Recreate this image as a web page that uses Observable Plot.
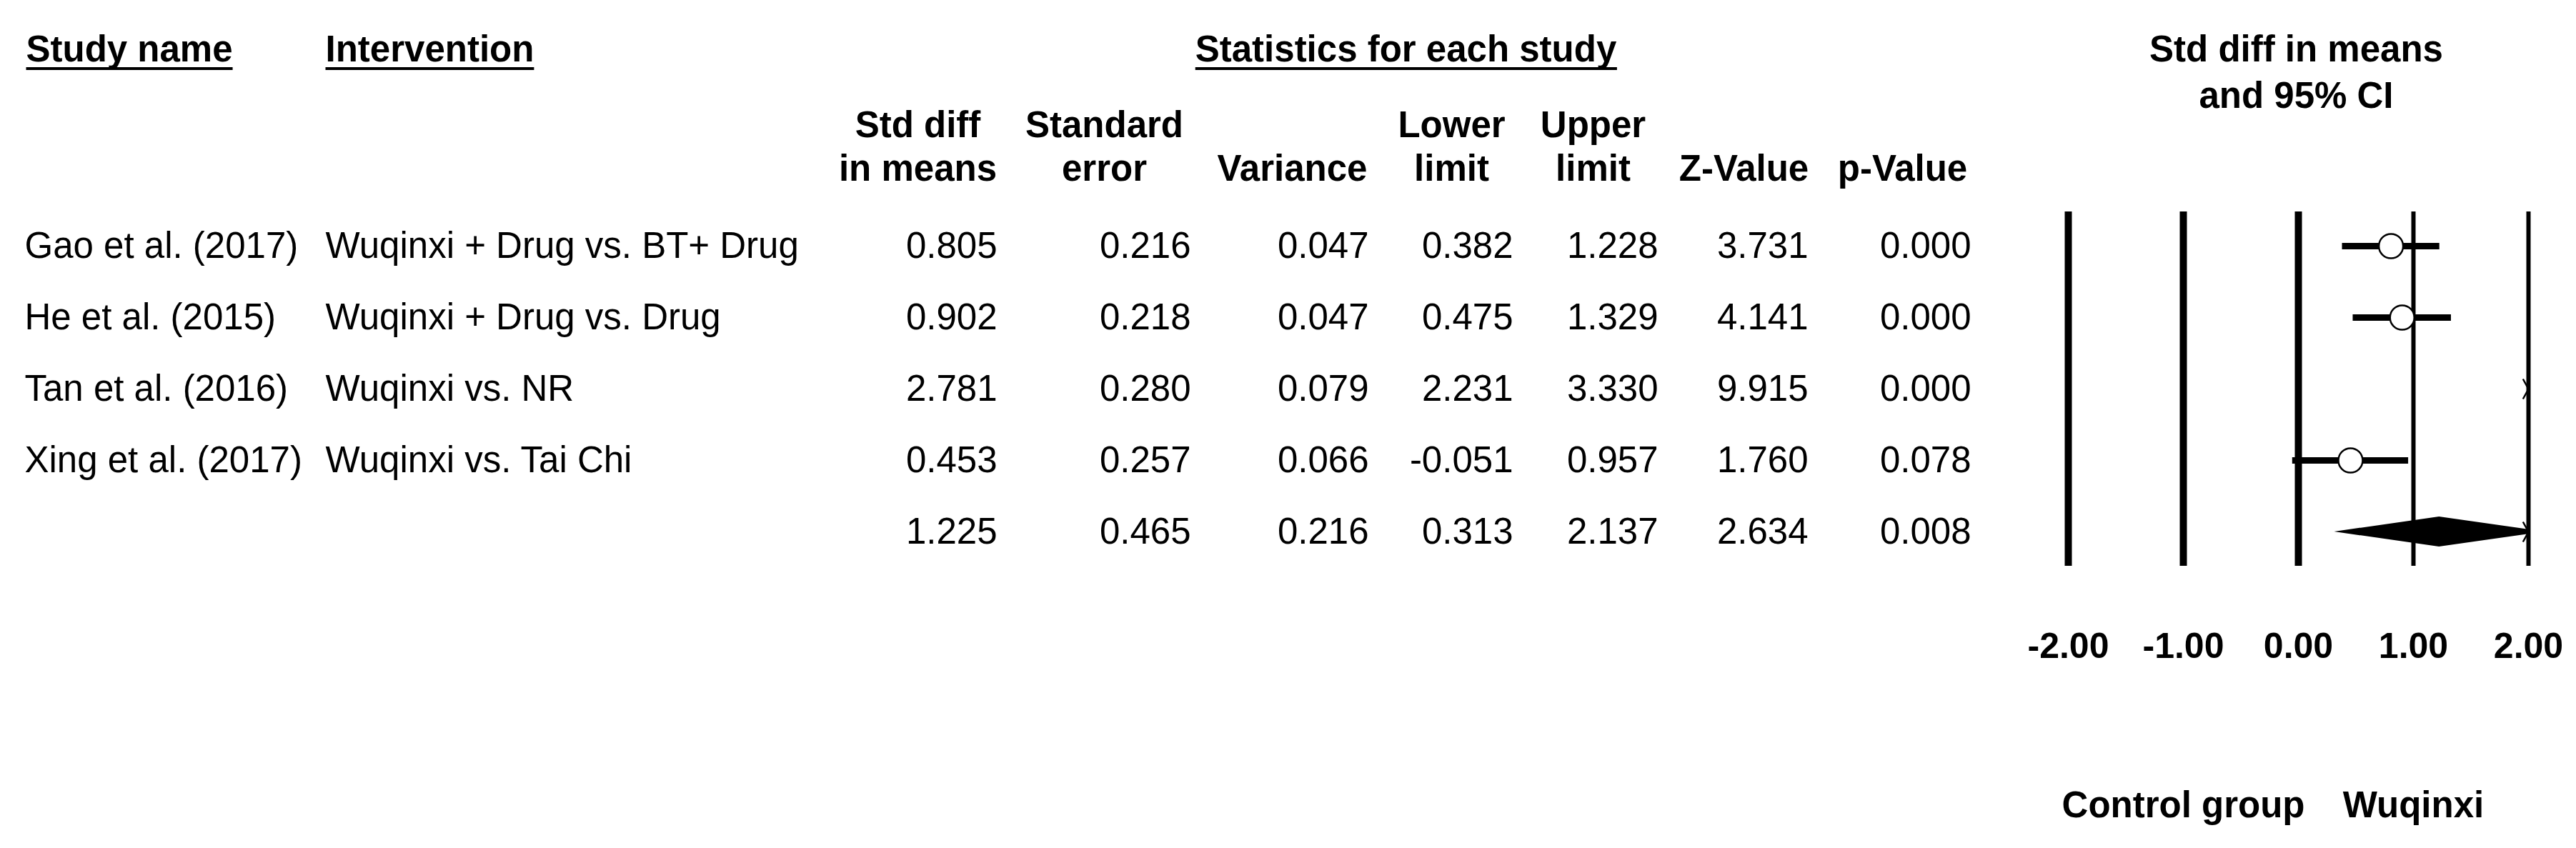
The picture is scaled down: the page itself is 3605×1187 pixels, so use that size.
<!DOCTYPE html>
<html>
<head>
<meta charset="utf-8">
<script src="https://cdn.jsdelivr.net/npm/d3@7"></script>
<script src="https://cdn.jsdelivr.net/npm/@observablehq/plot@0.6"></script>
<style>
  html, body { margin: 0; padding: 0; background: #fff; }
  #chart svg { display: block; }
</style>
</head>
<body>
<div id="chart"></div>
<script>
// ---------------- data ----------------
const studyNames = ["Gao et al. (2017)", "He et al. (2015)", "Tan et al. (2016)", "Xing et al. (2017)", ""];
const interventions = ["Wuqinxi + Drug vs. BT+ Drug", "Wuqinxi + Drug vs. Drug", "Wuqinxi vs. NR", "Wuqinxi vs. Tai Chi", ""];
const stdDiff  = [0.805, 0.902, 2.781, 0.453, 1.225];
const stdErr   = [0.216, 0.218, 0.280, 0.257, 0.465];
const variance = [0.047, 0.047, 0.079, 0.066, 0.216];
const lowerLim = [0.382, 0.475, 2.231, -0.051, 0.313];
const upperLim = [1.228, 1.329, 3.330, 0.957, 2.137];
const zValue   = [3.731, 4.141, 9.915, 1.760, 2.634];
const pValue   = [0.000, 0.000, 0.000, 0.078, 0.008];
const isSummary = [false, false, false, false, true];

const headerLeft = ["Study name", "Intervention"];
const headerStats = "Statistics for each study";
const colHeaderTop = ["Std diff", "Standard", "", "Lower", "Upper", "", ""];
const colHeaderBottom = ["in means", "error", "Variance", "limit", "limit", "Z-Value", "p-Value"];
const plotHeader = ["Std diff in means", "and 95% CI"];
const xTicks = [-2, -1, 0, 1, 2];
const favourLabels = ["Control group", "Wuqinxi"];
const favourAt = [-1, 1];

// ---------------- layout ----------------
const W = 3605, H = 1187;
const TOP = 296, BOTTOM = 792;
const FS = 51;
const colRight = [1395, 1666, 1915, 2117, 2320, 2530, 2758];
const colCenter = [1284, 1545, 1808, 2031, 2229, 2440, 2662];
const nameLeft = 34, interLeft = 455;
const xMin = -2, xMax = 2;
const clampX = v => Math.max(xMin, Math.min(xMax, v));

const rows = stdDiff.map((v, i) => ({
  i, name: studyNames[i], intervention: interventions[i],
  est: v, se: stdErr[i], variance: variance[i], lower: lowerLim[i], upper: upperLim[i],
  z: zValue[i], p: pValue[i], summary: isSummary[i]
}));
const fields = ["est", "se", "variance", "lower", "upper", "z", "p"];
const studies = rows.filter(d => !d.summary);
const summary = rows.find(d => d.summary);

// diamond for the overall effect (clipped at the axis end)
const dh = 0.21;
const dRight = Math.min(summary.upper, xMax);
const frac = (summary.upper - dRight) / (summary.upper - summary.est);
const diamond = [
  {x: summary.lower, y1: summary.i, y2: summary.i},
  {x: summary.est, y1: summary.i - dh, y2: summary.i + dh},
  {x: dRight, y1: summary.i - dh * frac, y2: summary.i + dh * frac}
];

const chevron = {
  draw(ctx, size) {
    const r = Math.sqrt(size / Math.PI);
    ctx.moveTo(-0.55 * r, -r);
    ctx.lineTo(0, 0);
    ctx.lineTo(-0.55 * r, r);
  }
};

const hdr = (label, y, opts) => Plot.text([label], {
  text: d => d, frameAnchor: "top-left", dy: y - TOP, lineAnchor: "middle",
  fontWeight: "bold", fontSize: FS, ...opts
});

const marks = [];
// header row
marks.push(hdr(headerLeft[0], 69, {dx: 36, textAnchor: "start"}));
marks.push(hdr(headerLeft[1], 69, {dx: interLeft, textAnchor: "start"}));
marks.push(hdr(headerStats, 69, {dx: 1967, textAnchor: "middle"}));
marks.push(hdr(plotHeader[0], 69, {dx: 3213, textAnchor: "middle"}));
marks.push(hdr(plotHeader[1], 134, {dx: 3213, textAnchor: "middle"}));
colHeaderTop.forEach((t, j) => { if (t) marks.push(hdr(t, 175, {dx: colCenter[j], textAnchor: "middle"})); });
colHeaderBottom.forEach((t, j) => { if (t) marks.push(hdr(t, 236, {dx: colCenter[j], textAnchor: "middle"})); });

// table body
marks.push(Plot.text(rows, {y: "i", text: "name", frameAnchor: "left", dx: nameLeft, textAnchor: "start", lineAnchor: "middle", fontSize: FS}));
marks.push(Plot.text(rows, {y: "i", text: "intervention", frameAnchor: "left", dx: interLeft, textAnchor: "start", lineAnchor: "middle", fontSize: FS}));
fields.forEach((f, j) => {
  marks.push(Plot.text(rows, {y: "i", text: d => d[f].toFixed(3), frameAnchor: "left", dx: colRight[j], textAnchor: "end", lineAnchor: "middle", fontSize: FS}));
});

// forest plot
marks.push(Plot.ruleX(xTicks.filter(t => t <= 0), {strokeWidth: 10, stroke: "black"}));
marks.push(Plot.ruleX(xTicks.filter(t => t > 0), {strokeWidth: 6, stroke: "black"}));
marks.push(Plot.ruleY(studies.filter(d => d.lower < xMax && d.upper > xMin), {
  y: "i", x1: d => clampX(d.lower), x2: d => clampX(d.upper), stroke: "black", strokeWidth: 9
}));
marks.push(Plot.dot(studies.filter(d => d.est >= xMin && d.est <= xMax), {
  x: "est", y: "i", r: 17, fill: "white", stroke: "black", strokeWidth: 2.5
}));
marks.push(Plot.areaY(diamond, {x: "x", y1: "y1", y2: "y2", fill: "black"}));
marks.push(Plot.dot(rows.filter(d => d.upper > xMax), {
  x: d => clampX(d.upper), y: "i", r: 14, symbol: chevron, fill: "none", stroke: "black", strokeWidth: 2.5
}));

// axis + favour labels
marks.push(Plot.axisX(xTicks, {
  tickFormat: d => d.toFixed(2), tickSize: 0, tickPadding: 93, fontSize: 50, fontWeight: "bold", label: null
}));
marks.push(Plot.text(favourLabels, {
  x: (d, i) => favourAt[i], text: d => d, frameAnchor: "bottom", dy: 1127 - BOTTOM,
  lineAnchor: "middle", textAnchor: "middle", fontWeight: "bold", fontSize: FS
}));

const chart = Plot.plot({
  width: W, height: H,
  marginTop: TOP, marginBottom: H - BOTTOM, marginLeft: 0, marginRight: 0,
  x: {domain: [xMin, xMax], range: [2894, 3538], axis: null},
  y: {domain: [-0.48, 4.48], reverse: true, axis: null},
  style: {fontFamily: "'Liberation Sans', Arial, sans-serif", background: "white", color: "black", overflow: "visible"},
  marks
});

document.getElementById("chart").appendChild(chart);

// underline the three top-row headers (measured from the rendered text)
const underlined = [headerLeft[0], headerLeft[1], headerStats];
const svgRect = chart.getBoundingClientRect();
d3.select(chart).selectAll("text")
  .filter(function() { return underlined.includes(this.textContent); })
  .each(function() {
    const r = this.getBoundingClientRect();
    d3.select(chart).append("line")
      .attr("x1", r.left - svgRect.left).attr("x2", r.right - svgRect.left)
      .attr("y1", 96).attr("y2", 96)
      .attr("stroke", "black").attr("stroke-width", 4);
  });
</script>
</body>
</html>
